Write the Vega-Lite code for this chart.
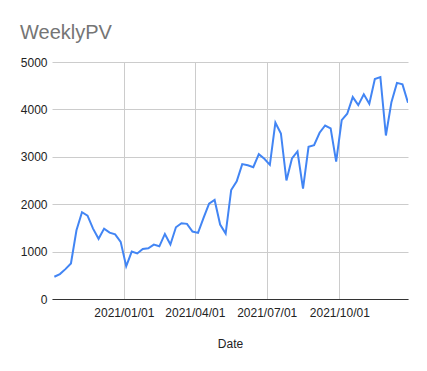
{
  "$schema": "https://vega.github.io/schema/vega-lite/v6.json",
  "autosize": "none",
  "width": 356,
  "height": 237,
  "padding": {"left": 52, "top": 62, "right": 19, "bottom": 72},
  "background": "white",
  "config": {
    "view": {"stroke": null},
    "font": "Liberation Sans"
  },
  "title": {
    "text": "WeeklyPV",
    "anchor": "start",
    "frame": "group",
    "fontSize": 20,
    "fontWeight": "normal",
    "color": "#757575",
    "font": "Liberation Sans",
    "baseline": "alphabetic",
    "dx": -32,
    "dy": 17,
    "offset": 14
  },
  "data": {
    "values": [
      {"date": "2020-10-05", "pv": 470},
      {"date": "2020-10-12", "pv": 525},
      {"date": "2020-10-19", "pv": 630},
      {"date": "2020-10-26", "pv": 750},
      {"date": "2020-11-02", "pv": 1450},
      {"date": "2020-11-09", "pv": 1830},
      {"date": "2020-11-16", "pv": 1760},
      {"date": "2020-11-23", "pv": 1485},
      {"date": "2020-11-30", "pv": 1270},
      {"date": "2020-12-07", "pv": 1485},
      {"date": "2020-12-14", "pv": 1400},
      {"date": "2020-12-21", "pv": 1365},
      {"date": "2020-12-28", "pv": 1205},
      {"date": "2021-01-04", "pv": 690},
      {"date": "2021-01-11", "pv": 1000},
      {"date": "2021-01-18", "pv": 960},
      {"date": "2021-01-25", "pv": 1056},
      {"date": "2021-02-01", "pv": 1070},
      {"date": "2021-02-08", "pv": 1147},
      {"date": "2021-02-15", "pv": 1112},
      {"date": "2021-02-22", "pv": 1373},
      {"date": "2021-03-01", "pv": 1150},
      {"date": "2021-03-08", "pv": 1513},
      {"date": "2021-03-15", "pv": 1598},
      {"date": "2021-03-22", "pv": 1585},
      {"date": "2021-03-29", "pv": 1422},
      {"date": "2021-04-05", "pv": 1394},
      {"date": "2021-04-12", "pv": 1710},
      {"date": "2021-04-19", "pv": 2013},
      {"date": "2021-04-26", "pv": 2090},
      {"date": "2021-05-03", "pv": 1570},
      {"date": "2021-05-10", "pv": 1380},
      {"date": "2021-05-17", "pv": 2300},
      {"date": "2021-05-24", "pv": 2485},
      {"date": "2021-05-31", "pv": 2845},
      {"date": "2021-06-07", "pv": 2820},
      {"date": "2021-06-14", "pv": 2780},
      {"date": "2021-06-21", "pv": 3055},
      {"date": "2021-06-28", "pv": 2958},
      {"date": "2021-07-05", "pv": 2830},
      {"date": "2021-07-12", "pv": 3720},
      {"date": "2021-07-19", "pv": 3492},
      {"date": "2021-07-26", "pv": 2500},
      {"date": "2021-08-02", "pv": 2964},
      {"date": "2021-08-09", "pv": 3112},
      {"date": "2021-08-16", "pv": 2330},
      {"date": "2021-08-23", "pv": 3211},
      {"date": "2021-08-30", "pv": 3245},
      {"date": "2021-09-06", "pv": 3507},
      {"date": "2021-09-13", "pv": 3660},
      {"date": "2021-09-20", "pv": 3598},
      {"date": "2021-09-27", "pv": 2900},
      {"date": "2021-10-04", "pv": 3774},
      {"date": "2021-10-11", "pv": 3909},
      {"date": "2021-10-18", "pv": 4260},
      {"date": "2021-10-25", "pv": 4090},
      {"date": "2021-11-01", "pv": 4320},
      {"date": "2021-11-08", "pv": 4120},
      {"date": "2021-11-15", "pv": 4640},
      {"date": "2021-11-22", "pv": 4680},
      {"date": "2021-11-29", "pv": 3450},
      {"date": "2021-12-06", "pv": 4154},
      {"date": "2021-12-13", "pv": 4560},
      {"date": "2021-12-20", "pv": 4528},
      {"date": "2021-12-27", "pv": 4141}
    ]
  },
  "mark": {"type": "line", "color": "#4285F4", "strokeWidth": 2, "clip": true},
  "encoding": {
    "x": {
      "field": "date",
      "type": "temporal",
      "title": "Date",
      "scale": {
        "type": "utc",
        "domain": [
          {"year": 2020, "month": 10, "date": 2, "utc": true},
          {"year": 2021, "month": 12, "date": 27, "utc": true}
        ]
      },
      "axis": {
        "values": [
          {"year": 2021, "month": 1, "date": 1, "utc": true},
          {"year": 2021, "month": 4, "date": 1, "utc": true},
          {"year": 2021, "month": 7, "date": 1, "utc": true},
          {"year": 2021, "month": 10, "date": 1, "utc": true}
        ],
        "format": "%Y/%m/%d",
        "labelFont": "Liberation Sans",
        "labelFontSize": 12,
        "labelColor": "#222222",
        "labelPadding": 8,
        "ticks": false,
        "domainColor": "#333333",
        "domainWidth": 1,
        "gridColor": "#cccccc",
        "gridWidth": 1,
        "titleFont": "Liberation Sans",
        "titleFontSize": 12,
        "titleFontWeight": "normal",
        "titleColor": "#222222",
        "titlePadding": 20,
        "labelFlush": false,
        "labelOverlap": false
      }
    },
    "y": {
      "field": "pv",
      "type": "quantitative",
      "title": null,
      "scale": {"domain": [0, 5000], "nice": false},
      "axis": {
        "values": [0, 1000, 2000, 3000, 4000, 5000],
        "format": "d",
        "labelFont": "Liberation Sans",
        "labelFontSize": 12,
        "labelColor": "#222222",
        "labelPadding": 5,
        "ticks": false,
        "domain": false,
        "gridColor": "#cccccc",
        "gridWidth": 1,
        "labelFlush": false
      }
    }
  }
}
